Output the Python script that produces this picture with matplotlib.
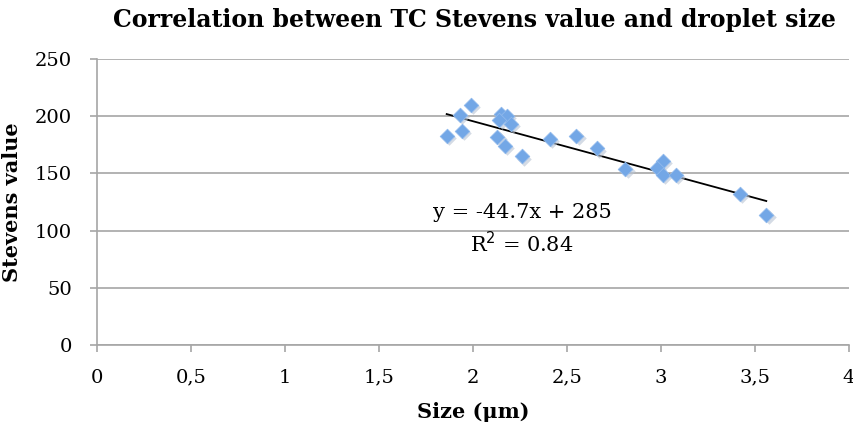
import matplotlib
matplotlib.use("Agg")
import matplotlib.pyplot as plt

# droplet size (um) and Stevens value
size_um = [1.86, 1.93, 1.99, 1.94, 2.15, 2.18, 2.14, 2.20, 2.13, 2.17, 2.26,
           2.41, 2.55, 2.66, 2.81, 3.01, 2.98, 3.01, 3.08, 3.42, 3.56]
stevens = [183, 201, 210, 187, 202, 200, 197, 193, 182, 174, 165,
           180, 183, 172, 154, 161, 155, 149, 149, 132, 114]

slope = -44.7
intercept = 285
r2 = 0.84

x_ticks = [0, 0.5, 1, 1.5, 2, 2.5, 3, 3.5, 4]
x_labels = ["0", "0,5", "1", "1,5", "2", "2,5", "3", "3,5", "4"]
y_ticks = [0, 50, 100, 150, 200, 250]

plt.rcParams['font.family'] = ['DejaVu Serif']

fig = plt.figure(figsize=(8.54, 4.28), dpi=100)
ax = fig.add_axes([97 / 854, 1 - 345 / 428, 752 / 854, 286 / 428])

# horizontal gridlines
ax.set_axisbelow(True)
ax.yaxis.grid(True, color='#a6a6a6', linewidth=1.2)

# trendline
x0, x1 = min(size_um), max(size_um)
ax.plot([x0, x1], [slope * x0 + intercept, slope * x1 + intercept],
        color='black', linewidth=1.3, zorder=2)

# shadow + markers
ax.scatter([v + 0.012 for v in size_um], [s - 2.0 for s in stevens], marker='D',
           s=55, color='#b8c4d4', alpha=0.6, linewidths=0, zorder=3)
ax.scatter(size_um, stevens, marker='D', s=55, color='#73a7e6',
           edgecolors='#8fb9ec', linewidths=0.6, zorder=4)

ax.text(2.26, 101, "y = %.1fx + %d\nR$^2$ = %.2f" % (slope, intercept, r2),
        ha='center', va='center', fontsize=15, linespacing=1.45)

ax.set_xlim(0, 4)
ax.set_ylim(0, 250)
ax.set_xticks(x_ticks)
ax.set_xticklabels(x_labels)
ax.set_yticks(y_ticks)
ax.tick_params(axis='both', labelsize=14, colors='#a6a6a6', labelcolor='black',
               length=5, width=1.2)
ax.tick_params(axis='x', pad=12)
ax.tick_params(axis='y', pad=13)

for side in ['top', 'right']:
    ax.spines[side].set_visible(False)
for side in ['left', 'bottom']:
    ax.spines[side].set_color('#a6a6a6')
    ax.spines[side].set_linewidth(1.2)

ax.set_xlabel("Size (\u03bcm)", fontsize=15, fontweight='bold', labelpad=11)
ax.set_ylabel("Stevens value", fontsize=15, fontweight='bold', labelpad=9)
fig.text(0.556, 0.953, "Correlation between TC Stevens value and droplet size",
         ha='center', va='center', fontsize=17, fontweight='bold')

fig.savefig("out.png", dpi=100)
